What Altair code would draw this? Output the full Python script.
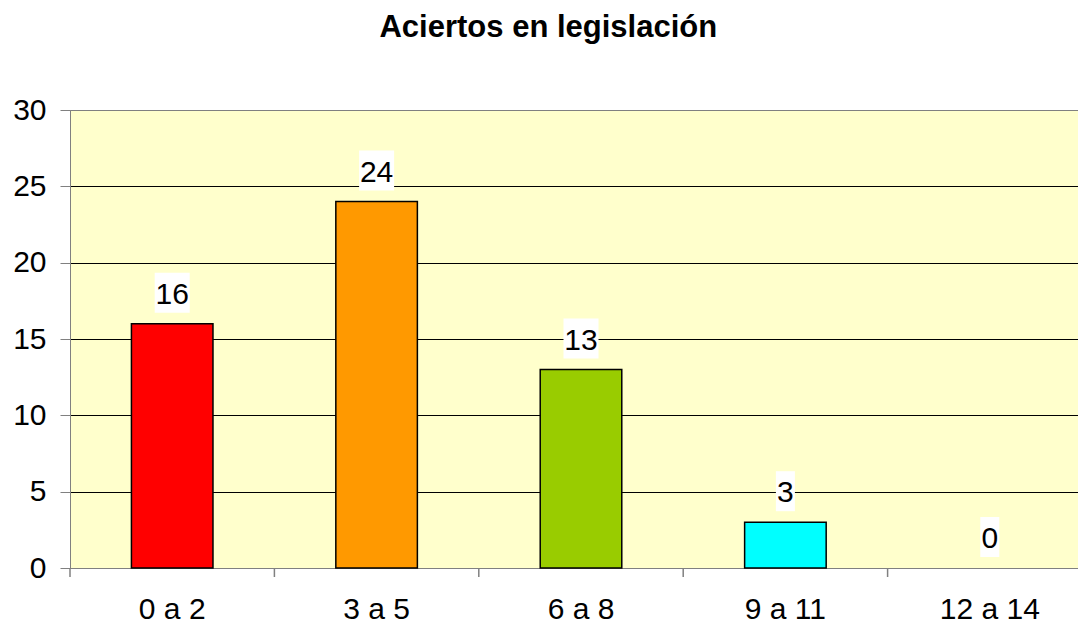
import altair as alt
import pandas as pd

categories = ["0 a 2", "3 a 5", "6 a 8", "9 a 11", "12 a 14"]
values = [16, 24, 13, 3, 0]
colors = ["#FF0000", "#FF9900", "#99CC00", "#00FFFF", "#FFFFCC"]
title_text = "Aciertos en legislación"

df = pd.DataFrame({"cat": categories, "val": values, "col": colors})

FONT = "Liberation Sans"
W_SCALE = 1022
H = 458
STEP = W_SCALE / len(categories)

x = alt.X(
    "cat:N",
    sort=categories,
    scale=alt.Scale(range=[0, W_SCALE], paddingInner=0.601, paddingOuter=0.3005),
    axis=alt.Axis(
        title=None, labelAngle=0, labelFont=FONT, labelFontSize=30, labelColor="black",
        ticks=False, domainColor="#808080",
        labelPadding=26, grid=False,
    ),
)
y = alt.Y(
    "val:Q",
    scale=alt.Scale(domain=[0, 30], nice=False),
    axis=alt.Axis(
        title=None, values=[0, 5, 10, 15, 20, 25, 30], labelFont=FONT, labelFontSize=30,
        labelColor="black", tickSize=10, tickColor="#808080", domainColor="#808080",
        labelPadding=14,
        gridColor=alt.condition("datum.value == 30", alt.value("#808080"), alt.value("black")),
        gridWidth=1,
    ),
)

bars = alt.Chart(df).transform_filter("datum.val > 0").mark_bar(
    stroke="black", strokeWidth=1.5
).encode(x=x, y=y, fill=alt.Fill("col:N", scale=None))

xticks = alt.Chart(df).mark_rule(
    color="#808080", strokeWidth=1.5, xOffset=-STEP / 2, clip=False
).encode(
    x=alt.X("cat:N", sort=categories), y=alt.value(H), y2=alt.value(H + 9)
)

boxes = alt.Chart(df).transform_calculate(
    shp="datum.val >= 10 ? 'M-0.875,-1L0.875,-1L0.875,1L-0.875,1Z' : 'M-0.475,-1L0.475,-1L0.475,1L-0.475,1Z'"
).mark_point(filled=True, fill="white", opacity=1, strokeWidth=0, size=1600, yOffset=-31).encode(
    x=alt.X("cat:N", sort=categories), y="val:Q", shape=alt.Shape("shp:N", scale=None)
)

labels = alt.Chart(df).mark_text(
    font=FONT, fontSize=30, color="black", baseline="middle", yOffset=-29
).encode(x=alt.X("cat:N", sort=categories), y="val:Q", text="val:Q")

chart = alt.layer(bars, xticks, boxes, labels).properties(
    width=1008, height=H,
    title=alt.TitleParams(title_text, font=FONT, fontSize=31, fontWeight="bold", color="black",
                          anchor="middle", frame="bounds", offset=51, dx=-4),
    padding={"left": 62, "top": 102, "right": 0, "bottom": 60},
    autosize=alt.AutoSizeParams(type="none"),
    background="white",
).configure_view(fill="#FFFFCC", stroke="#808080", strokeWidth=1)

chart.save("out.html", embed_options={"renderer": "svg", "actions": False})
